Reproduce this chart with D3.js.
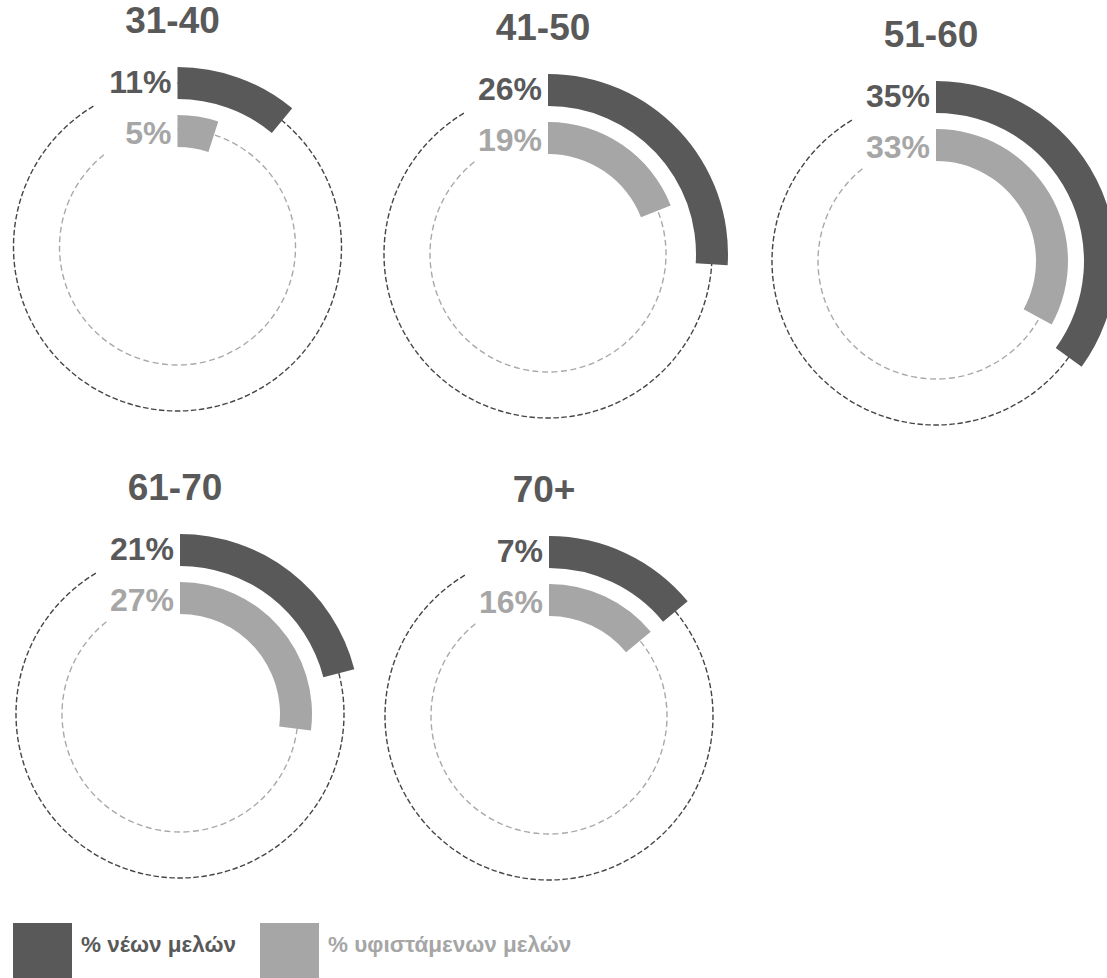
<!DOCTYPE html>
<html>
<head>
<meta charset="utf-8">
<script src="https://cdn.jsdelivr.net/npm/d3@7"></script>
<style>
  html, body { margin: 0; padding: 0; background: #ffffff; }
  svg { display: block; font-family: "Liberation Sans", Arial, sans-serif; }
</style>
</head>
<body>
<svg id="chart" width="1107" height="978"></svg>
<script>
// ---- data ----
const ageGroups = ["31-40", "41-50", "51-60", "61-70", "70+"];
// printed percentages
const newMembersLabel = [11, 26, 35, 21, 7];
const existingMembersLabel = [5, 19, 33, 27, 16];
// arc lengths as drawn in the picture (the 70+ arcs are drawn at ~14%)
const newMembersArc = [11, 26, 35, 21, 14];
const existingMembersArc = [5, 19, 33, 27, 14];
const seriesNames = ["% νέων μελών", "% υφιστάμενων μελών"];

// ---- layout (panel centres) ----
const panelCenters = [[177.5, 247], [548, 254], [936, 261], [180, 714], [549, 716]];

const colDark = "#595959", colLight = "#a6a6a6";
const svg = d3.select("#chart");

const angle = d3.scaleLinear().domain([0, 100]).range([0, 2 * Math.PI]);
const outerR = [148, 180], innerR = [100, 132];
const outerTrackR = 164, innerTrackR = 118;
const deg = d3.scaleLinear().domain([0, 360]).range([0, 2 * Math.PI]);
const outerTrackEnd = deg(329.5);
const innerTrackEnd = deg(322.5);

const arcOuter = d3.arc().innerRadius(outerR[0]).outerRadius(outerR[1]).startAngle(0);
const arcInner = d3.arc().innerRadius(innerR[0]).outerRadius(innerR[1]).startAngle(0);

function trackPath(r, end) {
  const p = d3.path();
  p.moveTo(0, -r);
  p.arc(0, 0, r, -Math.PI / 2, end - Math.PI / 2, false);
  return p.toString();
}

const panels = svg.selectAll("g.panel")
  .data(ageGroups.map((g, i) => ({
    group: g,
    newL: newMembersLabel[i], exL: existingMembersLabel[i],
    newA: newMembersArc[i], exA: existingMembersArc[i],
    c: panelCenters[i]
  })))
  .join("g")
  .attr("class", "panel")
  .attr("transform", d => `translate(${d.c[0]},${d.c[1]})`);

// dashed tracks
panels.append("path")
  .attr("d", trackPath(outerTrackR, outerTrackEnd))
  .attr("fill", "none").attr("stroke", "#454545")
  .attr("stroke-width", 1.4).attr("stroke-dasharray", "5.5,2.5");
panels.append("path")
  .attr("d", trackPath(innerTrackR, innerTrackEnd))
  .attr("fill", "none").attr("stroke", "#a9a9a9")
  .attr("stroke-width", 1.4).attr("stroke-dasharray", "6,3.5");

// value arcs
panels.append("path")
  .attr("d", d => arcOuter.endAngle(angle(d.newA))())
  .attr("fill", colDark);
panels.append("path")
  .attr("d", d => arcInner.endAngle(angle(d.exA))())
  .attr("fill", colLight);

// titles
panels.append("text")
  .attr("x", -5).attr("y", -214)
  .attr("text-anchor", "middle")
  .attr("font-size", 37).attr("font-weight", "bold")
  .attr("fill", colDark)
  .text(d => d.group);

// value labels
panels.append("text")
  .attr("x", -6).attr("y", -154)
  .attr("text-anchor", "end")
  .attr("font-size", 32).attr("font-weight", "bold")
  .attr("fill", colDark)
  .text(d => d.newL + "%");
panels.append("text")
  .attr("x", -6).attr("y", -103)
  .attr("text-anchor", "end")
  .attr("font-size", 32).attr("font-weight", "bold")
  .attr("fill", colLight)
  .text(d => d.exL + "%");

// legend
const legendX = d3.scaleOrdinal().domain(seriesNames).range([13, 260]);
const legendCol = d3.scaleOrdinal().domain(seriesNames).range([colDark, colLight]);
const lg = svg.selectAll("g.legend")
  .data(seriesNames)
  .join("g")
  .attr("class", "legend")
  .attr("transform", d => `translate(${legendX(d)},923)`);
lg.append("rect")
  .attr("width", 59).attr("height", 59)
  .attr("fill", d => legendCol(d));
lg.append("text")
  .attr("x", 68).attr("y", 29)
  .attr("font-size", 22.5).attr("font-weight", "bold")
  .attr("fill", d => legendCol(d))
  .text(d => d);
</script>
</body>
</html>
